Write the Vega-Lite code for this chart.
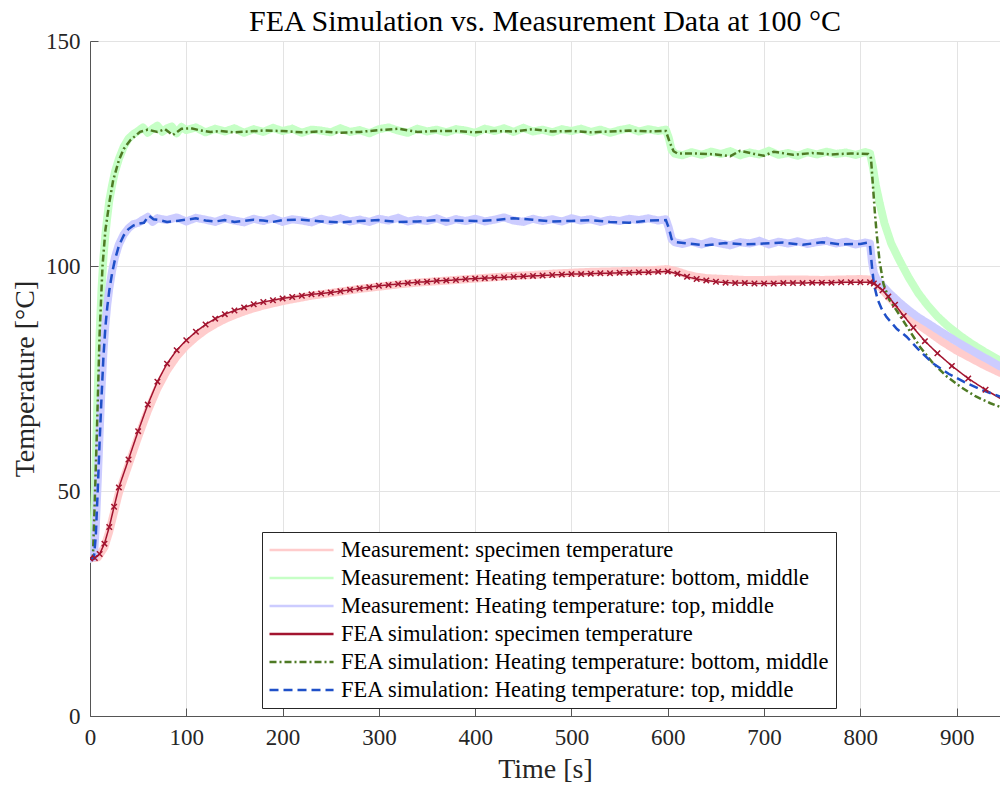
{
  "$schema": "https://vega.github.io/schema/vega-lite/v6.json",
  "width": 910,
  "height": 675,
  "autosize": {"type": "none"},
  "padding": {"left": 90, "top": 41, "right": 0, "bottom": 73},
  "background": "white",
  "config": {
    "view": {"stroke": null},
    "font": "Liberation Serif",
    "axis": {
      "labelFont": "Liberation Serif",
      "titleFont": "Liberation Serif",
      "labelFontSize": 23,
      "titleFontSize": 28,
      "titleFontWeight": "normal",
      "labelColor": "#262626",
      "titleColor": "#262626",
      "domainColor": "#555555",
      "tickColor": "#555555",
      "gridColor": "#e3e3e3",
      "gridWidth": 1,
      "tickSize": -8
    },
    "legend": {"labelFont": "Liberation Serif"}
  },
  "title": {
    "text": "FEA Simulation vs. Measurement Data at 100 °C",
    "font": "Liberation Serif",
    "fontSize": 30,
    "fontWeight": "normal",
    "color": "#000000",
    "anchor": "middle",
    "offset": -7
  },
  "datasets": {
    "names": [
      {"s": "m1", "series": "Measurement: specimen temperature"},
      {"s": "m2", "series": "Measurement: Heating temperature: bottom, middle"},
      {"s": "m3", "series": "Measurement: Heating temperature: top, middle"},
      {"s": "f1", "series": "FEA simulation: specimen temperature"},
      {"s": "f2", "series": "FEA simulation: Heating temperature: bottom, middle"},
      {"s": "f3", "series": "FEA simulation: Heating temperature: top, middle"}
    ],
    "pts": [
      {"s":"m1","t":0,"v":35},{"s":"m1","t":8,"v":35.2},{"s":"m1","t":15,"v":37.5},{"s":"m1","t":20,"v":41},{"s":"m1","t":25,"v":45.3},{"s":"m1","t":30,"v":49.6},{"s":"m1","t":40,"v":55.8},{"s":"m1","t":50,"v":62},{"s":"m1","t":60,"v":67.8},{"s":"m1","t":70,"v":72.8},{"s":"m1","t":80,"v":76.8},{"s":"m1","t":90,"v":79.9},{"s":"m1","t":100,"v":82.3},{"s":"m1","t":110,"v":84.2},{"s":"m1","t":120,"v":85.8},{"s":"m1","t":130,"v":87.1},{"s":"m1","t":140,"v":88.2},{"s":"m1","t":150,"v":89.1},{"s":"m1","t":160,"v":89.9},{"s":"m1","t":170,"v":90.6},{"s":"m1","t":180,"v":91.2},{"s":"m1","t":190,"v":91.7},{"s":"m1","t":200,"v":92.2},{"s":"m1","t":210,"v":92.6},{"s":"m1","t":220,"v":93},{"s":"m1","t":230,"v":93.4},{"s":"m1","t":240,"v":93.7},{"s":"m1","t":250,"v":94},{"s":"m1","t":260,"v":94.3},{"s":"m1","t":270,"v":94.6},{"s":"m1","t":280,"v":94.9},{"s":"m1","t":300,"v":95.4},{"s":"m1","t":320,"v":95.9},{"s":"m1","t":340,"v":96.3},{"s":"m1","t":360,"v":96.6},{"s":"m1","t":380,"v":96.9},{"s":"m1","t":400,"v":97.2},{"s":"m1","t":420,"v":97.5},{"s":"m1","t":440,"v":97.8},{"s":"m1","t":460,"v":98},{"s":"m1","t":480,"v":98.3},{"s":"m1","t":500,"v":98.5},{"s":"m1","t":520,"v":98.7},{"s":"m1","t":540,"v":98.8},{"s":"m1","t":560,"v":98.9},{"s":"m1","t":580,"v":99},{"s":"m1","t":600,"v":99.3},{"s":"m1","t":610,"v":98.8},{"s":"m1","t":620,"v":98.1},{"s":"m1","t":630,"v":97.6},{"s":"m1","t":640,"v":97.3},{"s":"m1","t":660,"v":97.1},{"s":"m1","t":680,"v":96.9},{"s":"m1","t":700,"v":96.9},{"s":"m1","t":720,"v":97},{"s":"m1","t":740,"v":97},{"s":"m1","t":760,"v":96.9},{"s":"m1","t":780,"v":97},{"s":"m1","t":800,"v":97.1},{"s":"m1","t":810,"v":97},{"s":"m1","t":816,"v":96.5},{"s":"m1","t":822,"v":95},{"s":"m1","t":830,"v":93},{"s":"m1","t":840,"v":90.8},{"s":"m1","t":850,"v":88.8},{"s":"m1","t":860,"v":87},{"s":"m1","t":872,"v":85.2},{"s":"m1","t":885,"v":83.2},{"s":"m1","t":900,"v":81.2},{"s":"m1","t":915,"v":79.5},{"s":"m1","t":930,"v":77.8},{"s":"m1","t":945,"v":76.3},

      {"s":"m2","t":0,"v":35},{"s":"m2","t":2,"v":35.2},{"s":"m2","t":4,"v":42},{"s":"m2","t":6,"v":57},{"s":"m2","t":8,"v":72},{"s":"m2","t":10,"v":85},{"s":"m2","t":12,"v":95},{"s":"m2","t":14,"v":102},{"s":"m2","t":16,"v":107},{"s":"m2","t":18,"v":111},{"s":"m2","t":20,"v":114.5},{"s":"m2","t":23,"v":118},{"s":"m2","t":26,"v":121},{"s":"m2","t":30,"v":123.8},{"s":"m2","t":35,"v":126.5},{"s":"m2","t":40,"v":128.3},{"s":"m2","t":45,"v":129.3},{"s":"m2","t":50,"v":130},{"s":"m2","t":55,"v":130.8},{"s":"m2","t":60,"v":129.6},{"s":"m2","t":65,"v":130.5},{"s":"m2","t":70,"v":131.2},{"s":"m2","t":75,"v":129.8},{"s":"m2","t":80,"v":130.6},{"s":"m2","t":85,"v":131},{"s":"m2","t":90,"v":129.5},{"s":"m2","t":95,"v":130.9},{"s":"m2","t":100,"v":130.2},{"s":"m2","t":110,"v":130.8},{"s":"m2","t":120,"v":129.7},{"s":"m2","t":130,"v":130.5},{"s":"m2","t":140,"v":129.9},{"s":"m2","t":150,"v":130.6},{"s":"m2","t":160,"v":129.6},{"s":"m2","t":170,"v":130.4},{"s":"m2","t":180,"v":129.8},{"s":"m2","t":190,"v":130.7},{"s":"m2","t":200,"v":130},{"s":"m2","t":210,"v":130.5},{"s":"m2","t":220,"v":129.6},{"s":"m2","t":230,"v":130.3},{"s":"m2","t":240,"v":130.1},{"s":"m2","t":250,"v":129.7},{"s":"m2","t":260,"v":130.6},{"s":"m2","t":270,"v":129.8},{"s":"m2","t":280,"v":130.2},{"s":"m2","t":290,"v":129.5},{"s":"m2","t":300,"v":130.4},{"s":"m2","t":310,"v":130.8},{"s":"m2","t":320,"v":130.1},{"s":"m2","t":330,"v":129.6},{"s":"m2","t":340,"v":130.5},{"s":"m2","t":350,"v":129.9},{"s":"m2","t":360,"v":130.3},{"s":"m2","t":370,"v":129.7},{"s":"m2","t":380,"v":130.4},{"s":"m2","t":390,"v":130.1},{"s":"m2","t":400,"v":129.6},{"s":"m2","t":410,"v":130.5},{"s":"m2","t":420,"v":130},{"s":"m2","t":430,"v":130.6},{"s":"m2","t":440,"v":129.8},{"s":"m2","t":450,"v":130.7},{"s":"m2","t":460,"v":129.9},{"s":"m2","t":470,"v":130.3},{"s":"m2","t":480,"v":129.7},{"s":"m2","t":490,"v":130.4},{"s":"m2","t":500,"v":130},{"s":"m2","t":510,"v":130.5},{"s":"m2","t":520,"v":129.8},{"s":"m2","t":530,"v":130.3},{"s":"m2","t":540,"v":129.6},{"s":"m2","t":550,"v":130.2},{"s":"m2","t":560,"v":130.6},{"s":"m2","t":570,"v":129.9},{"s":"m2","t":580,"v":130.4},{"s":"m2","t":590,"v":130},{"s":"m2","t":598,"v":130.3},{"s":"m2","t":601,"v":128.5},{"s":"m2","t":604,"v":125.8},{"s":"m2","t":607,"v":125},{"s":"m2","t":615,"v":124.6},{"s":"m2","t":625,"v":125.3},{"s":"m2","t":635,"v":124.7},{"s":"m2","t":645,"v":125.4},{"s":"m2","t":655,"v":124.9},{"s":"m2","t":665,"v":125.5},{"s":"m2","t":675,"v":124.6},{"s":"m2","t":685,"v":125.2},{"s":"m2","t":695,"v":124.8},{"s":"m2","t":705,"v":125.6},{"s":"m2","t":715,"v":124.7},{"s":"m2","t":725,"v":125.1},{"s":"m2","t":735,"v":124.5},{"s":"m2","t":745,"v":125.3},{"s":"m2","t":755,"v":124.8},{"s":"m2","t":765,"v":125.4},{"s":"m2","t":775,"v":124.9},{"s":"m2","t":785,"v":125.2},{"s":"m2","t":795,"v":124.7},{"s":"m2","t":805,"v":125.3},{"s":"m2","t":810,"v":125},{"s":"m2","t":813,"v":122},{"s":"m2","t":816,"v":118},{"s":"m2","t":820,"v":114},{"s":"m2","t":825,"v":109.5},{"s":"m2","t":832,"v":105},{"s":"m2","t":840,"v":101.5},{"s":"m2","t":850,"v":97.5},{"s":"m2","t":860,"v":94},{"s":"m2","t":870,"v":91.2},{"s":"m2","t":880,"v":88.8},{"s":"m2","t":890,"v":86.8},{"s":"m2","t":903,"v":84.6},{"s":"m2","t":915,"v":82.8},{"s":"m2","t":930,"v":80.8},{"s":"m2","t":945,"v":79},

      {"s":"m3","t":0,"v":35},{"s":"m3","t":4,"v":35.3},{"s":"m3","t":6,"v":42},{"s":"m3","t":8,"v":52},{"s":"m3","t":10,"v":63},{"s":"m3","t":12,"v":73},{"s":"m3","t":14,"v":81},{"s":"m3","t":16,"v":87},{"s":"m3","t":18,"v":91.5},{"s":"m3","t":20,"v":95},{"s":"m3","t":23,"v":99},{"s":"m3","t":26,"v":102},{"s":"m3","t":30,"v":104.8},{"s":"m3","t":35,"v":107},{"s":"m3","t":40,"v":108.4},{"s":"m3","t":45,"v":109.3},{"s":"m3","t":50,"v":109.6},{"s":"m3","t":55,"v":110.3},{"s":"m3","t":60,"v":110.9},{"s":"m3","t":65,"v":109.8},{"s":"m3","t":70,"v":110.6},{"s":"m3","t":80,"v":110.2},{"s":"m3","t":90,"v":110.8},{"s":"m3","t":100,"v":109.9},{"s":"m3","t":110,"v":110.7},{"s":"m3","t":120,"v":110.3},{"s":"m3","t":130,"v":109.8},{"s":"m3","t":140,"v":110.6},{"s":"m3","t":150,"v":110.1},{"s":"m3","t":160,"v":109.7},{"s":"m3","t":170,"v":110.5},{"s":"m3","t":180,"v":110},{"s":"m3","t":190,"v":110.6},{"s":"m3","t":200,"v":109.8},{"s":"m3","t":210,"v":110.4},{"s":"m3","t":220,"v":110.1},{"s":"m3","t":230,"v":109.7},{"s":"m3","t":240,"v":110.5},{"s":"m3","t":250,"v":110},{"s":"m3","t":260,"v":110.6},{"s":"m3","t":270,"v":109.9},{"s":"m3","t":280,"v":110.3},{"s":"m3","t":290,"v":109.8},{"s":"m3","t":300,"v":110.5},{"s":"m3","t":310,"v":110.1},{"s":"m3","t":320,"v":110.7},{"s":"m3","t":330,"v":109.9},{"s":"m3","t":340,"v":110.3},{"s":"m3","t":350,"v":110},{"s":"m3","t":360,"v":110.6},{"s":"m3","t":370,"v":109.8},{"s":"m3","t":380,"v":110.4},{"s":"m3","t":390,"v":110},{"s":"m3","t":400,"v":110.5},{"s":"m3","t":410,"v":109.9},{"s":"m3","t":420,"v":110.3},{"s":"m3","t":430,"v":110.8},{"s":"m3","t":440,"v":110.1},{"s":"m3","t":450,"v":109.8},{"s":"m3","t":460,"v":110.5},{"s":"m3","t":470,"v":110},{"s":"m3","t":480,"v":110.4},{"s":"m3","t":490,"v":109.9},{"s":"m3","t":500,"v":110.6},{"s":"m3","t":510,"v":110.1},{"s":"m3","t":520,"v":110.4},{"s":"m3","t":530,"v":109.8},{"s":"m3","t":540,"v":110.3},{"s":"m3","t":550,"v":110},{"s":"m3","t":560,"v":110.5},{"s":"m3","t":570,"v":110.2},{"s":"m3","t":580,"v":110.6},{"s":"m3","t":590,"v":110.1},{"s":"m3","t":598,"v":110.4},{"s":"m3","t":601,"v":108.5},{"s":"m3","t":604,"v":106},{"s":"m3","t":607,"v":105.3},{"s":"m3","t":615,"v":104.9},{"s":"m3","t":625,"v":105.4},{"s":"m3","t":635,"v":104.8},{"s":"m3","t":645,"v":105.5},{"s":"m3","t":655,"v":105},{"s":"m3","t":665,"v":104.6},{"s":"m3","t":675,"v":105.3},{"s":"m3","t":685,"v":105},{"s":"m3","t":695,"v":105.6},{"s":"m3","t":705,"v":104.8},{"s":"m3","t":715,"v":105.4},{"s":"m3","t":725,"v":105},{"s":"m3","t":735,"v":105.5},{"s":"m3","t":745,"v":104.9},{"s":"m3","t":755,"v":105.3},{"s":"m3","t":765,"v":105.6},{"s":"m3","t":775,"v":105},{"s":"m3","t":785,"v":105.4},{"s":"m3","t":795,"v":104.8},{"s":"m3","t":805,"v":105.2},{"s":"m3","t":810,"v":105},{"s":"m3","t":812,"v":101},{"s":"m3","t":814,"v":98.5},{"s":"m3","t":817,"v":97},{"s":"m3","t":822,"v":95.8},{"s":"m3","t":830,"v":94},{"s":"m3","t":840,"v":92},{"s":"m3","t":850,"v":90.2},{"s":"m3","t":860,"v":88.6},{"s":"m3","t":872,"v":87},{"s":"m3","t":885,"v":85.2},{"s":"m3","t":900,"v":83.2},{"s":"m3","t":915,"v":81.3},{"s":"m3","t":930,"v":79.5},{"s":"m3","t":945,"v":77.7},

      {"s":"f1","t":0,"v":35},{"s":"f1","t":5,"v":35.1},{"s":"f1","t":10,"v":36},{"s":"f1","t":15,"v":38.3},{"s":"f1","t":20,"v":42},{"s":"f1","t":25,"v":46.5},{"s":"f1","t":30,"v":50.8},{"s":"f1","t":40,"v":57},{"s":"f1","t":50,"v":63.3},{"s":"f1","t":60,"v":69.2},{"s":"f1","t":70,"v":74.3},{"s":"f1","t":80,"v":78.3},{"s":"f1","t":90,"v":81.3},{"s":"f1","t":100,"v":83.5},{"s":"f1","t":110,"v":85.4},{"s":"f1","t":120,"v":87},{"s":"f1","t":130,"v":88.3},{"s":"f1","t":140,"v":89.3},{"s":"f1","t":150,"v":90.1},{"s":"f1","t":160,"v":90.8},{"s":"f1","t":170,"v":91.5},{"s":"f1","t":180,"v":92},{"s":"f1","t":190,"v":92.4},{"s":"f1","t":200,"v":92.8},{"s":"f1","t":210,"v":93.1},{"s":"f1","t":220,"v":93.4},{"s":"f1","t":230,"v":93.7},{"s":"f1","t":240,"v":93.9},{"s":"f1","t":250,"v":94.1},{"s":"f1","t":260,"v":94.4},{"s":"f1","t":270,"v":94.7},{"s":"f1","t":280,"v":95},{"s":"f1","t":290,"v":95.3},{"s":"f1","t":300,"v":95.6},{"s":"f1","t":310,"v":95.8},{"s":"f1","t":320,"v":96},{"s":"f1","t":330,"v":96.2},{"s":"f1","t":340,"v":96.4},{"s":"f1","t":350,"v":96.5},{"s":"f1","t":360,"v":96.7},{"s":"f1","t":370,"v":96.8},{"s":"f1","t":380,"v":96.9},{"s":"f1","t":390,"v":97.1},{"s":"f1","t":400,"v":97.2},{"s":"f1","t":410,"v":97.3},{"s":"f1","t":420,"v":97.4},{"s":"f1","t":430,"v":97.5},{"s":"f1","t":440,"v":97.6},{"s":"f1","t":450,"v":97.7},{"s":"f1","t":460,"v":97.8},{"s":"f1","t":470,"v":97.9},{"s":"f1","t":480,"v":98},{"s":"f1","t":490,"v":98.1},{"s":"f1","t":500,"v":98.2},{"s":"f1","t":510,"v":98.2},{"s":"f1","t":520,"v":98.3},{"s":"f1","t":530,"v":98.4},{"s":"f1","t":540,"v":98.4},{"s":"f1","t":550,"v":98.5},{"s":"f1","t":560,"v":98.5},{"s":"f1","t":570,"v":98.6},{"s":"f1","t":580,"v":98.6},{"s":"f1","t":590,"v":98.7},{"s":"f1","t":600,"v":98.8},{"s":"f1","t":610,"v":98.3},{"s":"f1","t":620,"v":97.6},{"s":"f1","t":630,"v":97.1},{"s":"f1","t":640,"v":96.8},{"s":"f1","t":650,"v":96.5},{"s":"f1","t":660,"v":96.3},{"s":"f1","t":670,"v":96.2},{"s":"f1","t":680,"v":96.2},{"s":"f1","t":690,"v":96.1},{"s":"f1","t":700,"v":96.1},{"s":"f1","t":710,"v":96.1},{"s":"f1","t":720,"v":96.2},{"s":"f1","t":730,"v":96.2},{"s":"f1","t":740,"v":96.2},{"s":"f1","t":750,"v":96.3},{"s":"f1","t":760,"v":96.3},{"s":"f1","t":770,"v":96.3},{"s":"f1","t":780,"v":96.4},{"s":"f1","t":790,"v":96.4},{"s":"f1","t":800,"v":96.4},{"s":"f1","t":810,"v":96.4},{"s":"f1","t":814,"v":96.1},{"s":"f1","t":818,"v":95.5},{"s":"f1","t":823,"v":94.6},{"s":"f1","t":829,"v":93.2},{"s":"f1","t":836,"v":91.4},{"s":"f1","t":845,"v":88.9},{"s":"f1","t":855,"v":86.3},{"s":"f1","t":867,"v":83.3},{"s":"f1","t":880,"v":80.6},{"s":"f1","t":895,"v":77.8},{"s":"f1","t":912,"v":75},{"s":"f1","t":930,"v":72.5},{"s":"f1","t":950,"v":70},

      {"s":"f2","t":0,"v":35},{"s":"f2","t":3,"v":35},{"s":"f2","t":5,"v":48},{"s":"f2","t":7,"v":62},{"s":"f2","t":10,"v":85},{"s":"f2","t":13,"v":100},{"s":"f2","t":16,"v":108},{"s":"f2","t":20,"v":114},{"s":"f2","t":24,"v":119},{"s":"f2","t":30,"v":123.5},{"s":"f2","t":35,"v":126},{"s":"f2","t":42,"v":128},{"s":"f2","t":52,"v":129.8},{"s":"f2","t":60,"v":130.3},{"s":"f2","t":70,"v":129.8},{"s":"f2","t":78,"v":130.4},{"s":"f2","t":86,"v":129.1},{"s":"f2","t":95,"v":130.5},{"s":"f2","t":105,"v":130.6},{"s":"f2","t":115,"v":130.1},{"s":"f2","t":125,"v":129.8},{"s":"f2","t":135,"v":130},{"s":"f2","t":150,"v":129.7},{"s":"f2","t":165,"v":129.9},{"s":"f2","t":180,"v":130.1},{"s":"f2","t":200,"v":130},{"s":"f2","t":220,"v":129.7},{"s":"f2","t":240,"v":129.9},{"s":"f2","t":260,"v":129.6},{"s":"f2","t":280,"v":129.8},{"s":"f2","t":300,"v":130.2},{"s":"f2","t":320,"v":130.5},{"s":"f2","t":340,"v":129.8},{"s":"f2","t":360,"v":130},{"s":"f2","t":380,"v":130},{"s":"f2","t":400,"v":129.7},{"s":"f2","t":420,"v":130},{"s":"f2","t":440,"v":129.9},{"s":"f2","t":460,"v":130.4},{"s":"f2","t":480,"v":129.9},{"s":"f2","t":500,"v":130},{"s":"f2","t":520,"v":129.7},{"s":"f2","t":540,"v":129.9},{"s":"f2","t":560,"v":130.1},{"s":"f2","t":580,"v":129.9},{"s":"f2","t":598,"v":130},{"s":"f2","t":602,"v":127.5},{"s":"f2","t":606,"v":125.5},{"s":"f2","t":610,"v":125},{"s":"f2","t":630,"v":125},{"s":"f2","t":650,"v":124.8},{"s":"f2","t":665,"v":124.4},{"s":"f2","t":675,"v":125.6},{"s":"f2","t":690,"v":124.9},{"s":"f2","t":700,"v":124.5},{"s":"f2","t":710,"v":125.4},{"s":"f2","t":730,"v":124.7},{"s":"f2","t":750,"v":125.1},{"s":"f2","t":770,"v":124.8},{"s":"f2","t":790,"v":125},{"s":"f2","t":808,"v":124.9},{"s":"f2","t":811,"v":124},{"s":"f2","t":813,"v":118},{"s":"f2","t":815,"v":112},{"s":"f2","t":817,"v":107},{"s":"f2","t":820,"v":101},{"s":"f2","t":824,"v":96},{"s":"f2","t":830,"v":92.5},{"s":"f2","t":838,"v":90},{"s":"f2","t":850,"v":86},{"s":"f2","t":862,"v":82},{"s":"f2","t":875,"v":78.5},{"s":"f2","t":890,"v":75.4},{"s":"f2","t":905,"v":73},{"s":"f2","t":920,"v":71},{"s":"f2","t":935,"v":69.5},{"s":"f2","t":945,"v":68.7},

      {"s":"f3","t":0,"v":35},{"s":"f3","t":4,"v":35},{"s":"f3","t":6,"v":40},{"s":"f3","t":8,"v":50},{"s":"f3","t":10,"v":61},{"s":"f3","t":12,"v":71},{"s":"f3","t":14,"v":80},{"s":"f3","t":16,"v":86.5},{"s":"f3","t":18,"v":91},{"s":"f3","t":20,"v":94.5},{"s":"f3","t":23,"v":98.5},{"s":"f3","t":26,"v":101.5},{"s":"f3","t":30,"v":104.5},{"s":"f3","t":35,"v":106.8},{"s":"f3","t":40,"v":108.2},{"s":"f3","t":45,"v":109},{"s":"f3","t":50,"v":109.4},{"s":"f3","t":56,"v":109.6},{"s":"f3","t":61,"v":111.2},{"s":"f3","t":66,"v":110.4},{"s":"f3","t":72,"v":110.2},{"s":"f3","t":80,"v":109.8},{"s":"f3","t":90,"v":110},{"s":"f3","t":100,"v":110.3},{"s":"f3","t":110,"v":110.6},{"s":"f3","t":120,"v":110.1},{"s":"f3","t":130,"v":109.9},{"s":"f3","t":140,"v":110.2},{"s":"f3","t":150,"v":109.8},{"s":"f3","t":160,"v":110},{"s":"f3","t":170,"v":110.3},{"s":"f3","t":180,"v":110.1},{"s":"f3","t":190,"v":109.8},{"s":"f3","t":200,"v":110.2},{"s":"f3","t":220,"v":110.3},{"s":"f3","t":240,"v":109.9},{"s":"f3","t":260,"v":109.7},{"s":"f3","t":280,"v":110},{"s":"f3","t":300,"v":110.2},{"s":"f3","t":320,"v":109.8},{"s":"f3","t":340,"v":109.9},{"s":"f3","t":360,"v":110.2},{"s":"f3","t":380,"v":110.1},{"s":"f3","t":400,"v":110},{"s":"f3","t":420,"v":110.2},{"s":"f3","t":440,"v":110.6},{"s":"f3","t":460,"v":110.3},{"s":"f3","t":480,"v":109.9},{"s":"f3","t":500,"v":110},{"s":"f3","t":520,"v":110.2},{"s":"f3","t":540,"v":109.8},{"s":"f3","t":560,"v":109.6},{"s":"f3","t":580,"v":110.1},{"s":"f3","t":598,"v":110.2},{"s":"f3","t":601,"v":108.5},{"s":"f3","t":604,"v":106},{"s":"f3","t":608,"v":105.3},{"s":"f3","t":620,"v":105},{"s":"f3","t":640,"v":104.6},{"s":"f3","t":660,"v":105.1},{"s":"f3","t":680,"v":104.8},{"s":"f3","t":700,"v":105},{"s":"f3","t":720,"v":105.2},{"s":"f3","t":740,"v":104.7},{"s":"f3","t":760,"v":105.3},{"s":"f3","t":780,"v":104.8},{"s":"f3","t":800,"v":104.9},{"s":"f3","t":808,"v":105.2},{"s":"f3","t":810,"v":104.5},{"s":"f3","t":812,"v":100},{"s":"f3","t":814,"v":96},{"s":"f3","t":818,"v":92.5},{"s":"f3","t":822,"v":90.5},{"s":"f3","t":827,"v":88.7},{"s":"f3","t":838,"v":86},{"s":"f3","t":848,"v":84.3},{"s":"f3","t":860,"v":81.5},{"s":"f3","t":875,"v":78.4},{"s":"f3","t":892,"v":76},{"s":"f3","t":910,"v":74},{"s":"f3","t":928,"v":72.3},{"s":"f3","t":945,"v":71}
    ]
  },
  "data": {"name": "pts"},
  "transform": [
    {"lookup": "s", "from": {"data": {"name": "names"}, "key": "s", "fields": ["series"]}}
  ],
  "encoding": {
    "x": {
      "field": "t", "type": "quantitative",
      "scale": {"domain": [0, 945], "nice": false, "zero": false},
      "axis": {"values": [0,100,200,300,400,500,600,700,800,900], "title": "Time [s]", "labelPadding": 18, "titlePadding": 6, "labelFlush": false}
    },
    "y": {
      "field": "v", "type": "quantitative",
      "scale": {"domain": [0, 150], "nice": false},
      "axis": {"values": [0,50,100,150], "title": "Temperature [°C]", "labelPadding": 18, "titlePadding": 6, "labelFlush": false}
    }
  },
  "layer": [
    {
      "transform": [{"filter": "indexof(['m1','m2','m3'], datum.s) >= 0"}],
      "mark": {"type": "line", "clip": true, "strokeWidth": 8, "strokeJoin": "round", "strokeCap": "round"},
      "encoding": {
        "color": {"field": "series", "type": "nominal",
          "scale": {"domain": ["Measurement: specimen temperature","Measurement: Heating temperature: bottom, middle","Measurement: Heating temperature: top, middle","FEA simulation: specimen temperature","FEA simulation: Heating temperature: bottom, middle","FEA simulation: Heating temperature: top, middle"], "range": ["#ffcccc","#c6ffc6","#ccccff","#a2142f","#4e7a24","#1f50c8"]},
          "legend": {
            "orient": "none", "legendX": 172, "legendY": 491, "title": null,
            "symbolType": "M-1,0L5.1,0", "symbolSize": 441, "symbolStrokeWidth": 2.5,
            "labelFontSize": 22.5, "labelColor": "#000000", "labelLimit": 0, "labelOffset": 49,
            "strokeColor": "#262626", "fillColor": "white", "padding": 6, "rowPadding": 4
          }
        },
        "strokeDash": {"field": "series", "type": "nominal",
          "scale": {"domain": ["Measurement: specimen temperature","Measurement: Heating temperature: bottom, middle","Measurement: Heating temperature: top, middle","FEA simulation: specimen temperature","FEA simulation: Heating temperature: bottom, middle","FEA simulation: Heating temperature: top, middle"], "range": [[1,0],[1,0],[1,0],[1,0],[7,3,2,3],[9,5]]}
        }
      }
    },
    {
      "transform": [{"filter": "datum.s == 'f1'"}],
      "mark": {"type": "line", "clip": true, "strokeWidth": 1.5},
      "encoding": {"color": {"field": "series", "type": "nominal"}, "strokeDash": {"field": "series", "type": "nominal"}}
    },
    {
      "transform": [{"filter": "datum.s == 'f2'"}],
      "mark": {"type": "line", "clip": true, "strokeWidth": 2.5},
      "encoding": {"color": {"field": "series", "type": "nominal"}, "strokeDash": {"field": "series", "type": "nominal"}}
    },
    {
      "transform": [{"filter": "datum.s == 'f3'"}],
      "mark": {"type": "line", "clip": true, "strokeWidth": 2.5},
      "encoding": {"color": {"field": "series", "type": "nominal"}, "strokeDash": {"field": "series", "type": "nominal"}}
    },
    {
      "transform": [{"filter": "datum.s == 'f1'"}],
      "mark": {"type": "point", "clip": true, "shape": "M-1,-1L1,1M1,-1L-1,1", "filled": false, "color": "#a2142f", "strokeWidth": 1.5, "size": 30, "opacity": 1}
    }
  ]
}
